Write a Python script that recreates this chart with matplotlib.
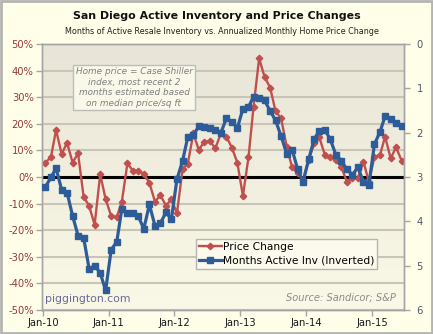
import matplotlib
matplotlib.use('Agg')
import matplotlib.pyplot as plt
import matplotlib.dates as mdates
from matplotlib.colors import LinearSegmentedColormap
from matplotlib.lines import Line2D
from matplotlib.patches import Rectangle
import numpy as np
import pandas as pd

# ---------------- data ----------------
dates = pd.date_range('2010-01-01', periods=66, freq='MS') + pd.Timedelta(days=14)

price_change = [5.3, 7.6, 17.7, 8.6, 12.9, 5.4, 8.9, -7.4, -10.9, -18.0,
                1.0, -8.3, -14.7, -15.0, -9.3, 5.1, 2.4, 2.4, 1.1, -2.2,
                -9.3, -6.8, -10.8, -8.3, -13.7, 3.0, 5.0, 16.4, 10.2, 13.3,
                13.5, 10.8, 16.4, 15.2, 11.0, 5.4, -7.1, 7.4, 26.4, 44.6,
                37.7, 33.6, 24.8, 22.0, 11.4, 3.6, 1.4, -1.0, 6.4, 12.7,
                14.9, 8.3, 7.5, 6.4, 3.8, -1.8, -0.5, -0.5, 5.8, -1.8,
                7.6, 8.3, 15.2, 7.0, 11.2, 6.1]

months_inventory = [3.22, 3.01, 2.80, 3.29, 3.35, 3.88, 4.32, 4.37, 5.08, 5.00,
                    5.16, 5.56, 4.64, 4.46, 3.72, 3.82, 3.82, 3.89, 4.17, 3.62,
                    4.10, 4.04, 3.80, 3.95, 3.05, 2.64, 2.10, 2.05, 1.86, 1.88,
                    1.90, 1.93, 2.00, 1.68, 1.75, 1.90, 1.46, 1.42, 1.19, 1.22,
                    1.27, 1.51, 1.72, 2.08, 2.47, 2.38, 2.83, 3.11, 2.60, 2.14,
                    1.96, 1.94, 2.15, 2.50, 2.63, 2.83, 2.95, 2.78, 3.11, 3.18,
                    2.26, 1.98, 1.63, 1.70, 1.79, 1.85]

pct_ticks = list(range(-50, 51, 10))
inv_ticks = list(range(0, 7))
year_ticks = pd.date_range('2010-01-01', '2015-01-01', freq='YS')

title = 'San Diego Active Inventory and Price Changes'
subtitle = 'Months of Active Resale Inventory vs. Annualized Monthly Home Price Change'
note = 'Home price = Case Shiller\nindex, most recent 2\nmonths estimated based\non median price/sq ft'
series_names = ['Price Change', 'Months Active Inv (Inverted)']

# ---------------- style ----------------
W, H = 433, 334
bg = '#FEFEE9'
red = '#C0504D'
blue = '#2E5C98'
grid_c = '#C8C5B7'
spine_c = '#A5A5A5'

fig = plt.figure(figsize=(W / 100, H / 100), dpi=100, facecolor=bg)

def px(x0, y0, x1, y1):
    return [x0 / W, 1 - y1 / H, (x1 - x0) / W, (y1 - y0) / H]

pos = px(42, 44, 404, 310)

# gradient background for plot area
bax = fig.add_axes(pos, zorder=0)
grad = np.linspace(0, 1, 256).reshape(-1, 1)
cmap = LinearSegmentedColormap.from_list('g', ['#FAF8E6', '#E8E5D8'])
bax.imshow(grad, extent=[0, 1, 0, 1], origin='lower', aspect='auto', cmap=cmap)
bax.set_axis_off()

ax = fig.add_axes(pos, zorder=1)
ax.set_facecolor('none')
ax2 = ax.twinx()
ax2.set_zorder(2)
ax2.set_facecolor('none')

# price change series
ax.plot(dates, price_change, color=red, lw=1.7, marker='D', ms=3.3,
        mec=red, mfc=red, zorder=3)
ax.axhline(0, color='black', lw=2.2, zorder=2)
ax.set_ylim(-50, 50)
ax.set_yticks(pct_ticks)
ax.set_yticklabels([f'{t}%' for t in pct_ticks])
ax.yaxis.grid(True, color=grid_c, lw=1.5)
ax.set_axisbelow(True)

xmin = pd.Timestamp('2009-12-27')
xmax = pd.Timestamp('2015-06-28')
ax.set_xlim(xmin, xmax)
ax.set_xticks(year_ticks)
ax.xaxis.set_major_formatter(mdates.DateFormatter('%b-%y'))

# inventory series (inverted axis)
ax2.plot(dates, months_inventory, color=blue, lw=2.3, marker='s', ms=4.4,
         mec=blue, mfc=blue, zorder=4)
ax2.set_ylim(6, 0)
ax2.set_yticks(inv_ticks)
ax2.set_xlim(xmin, xmax)

for a in (ax, ax2):
    for s in a.spines.values():
        s.set_color(spine_c)
        s.set_linewidth(1.0)

ax.tick_params(axis='y', colors=spine_c, labelcolor='#943A36', labelsize=7.2,
               length=4, width=1, pad=2)
ax.tick_params(axis='x', colors=spine_c, labelcolor='#1A1A1A', labelsize=7.2,
               length=4, width=1, pad=2)
ax2.tick_params(axis='y', colors=spine_c, labelcolor='#4F5A6B', labelsize=7.2,
                length=4, width=1, pad=5)

handles = [Line2D([], [], color=red, lw=1.7, marker='D', ms=3.3),
           Line2D([], [], color=blue, lw=2.3, marker='s', ms=4.4)]
leg = ax2.legend(handles, series_names, loc='upper left',
                 bbox_to_anchor=(0.425, 0.267), borderaxespad=0,
                 fancybox=False, edgecolor='#B5B5B5', facecolor='#FBFAEC',
                 framealpha=1, fontsize=7.7, handlelength=2.1,
                 handletextpad=0.1, borderpad=0.3, labelspacing=0.3)
leg.get_frame().set_linewidth(1.0)

# titles
fig.text(217 / W, 1 - 16 / H, title, ha='center', va='center',
         fontsize=7.9, fontweight='bold', color='#111111')
fig.text(222 / W, 1 - 31 / H, subtitle, ha='center', va='center',
         fontsize=5.8, color='#222222')

# note box
fig.text(134 / W, 1 - 87.5 / H, note, ha='center', va='center',
         fontsize=6.4, style='italic', color='#7F7F7F', linespacing=1.2,
         bbox=dict(boxstyle='square,pad=0.25', fc='#F9F8E9', ec='#BDBDBD', lw=1))

fig.text(45 / W, 1 - 299 / H, 'piggington.com', ha='left', va='center',
         fontsize=7.8, color='#6A6A96')
fig.text(396 / W, 1 - 298 / H, 'Source: Sandicor; S&P', ha='right', va='center',
         fontsize=7.1, style='italic', color='#8C8C8C')

# outer frame
fig.patches.append(Rectangle((0.002, 0.003), 0.995, 0.994, transform=fig.transFigure,
                             fill=False, ec='#B4B4B4', lw=2))

fig.savefig('out.png', dpi=100, facecolor=bg)
